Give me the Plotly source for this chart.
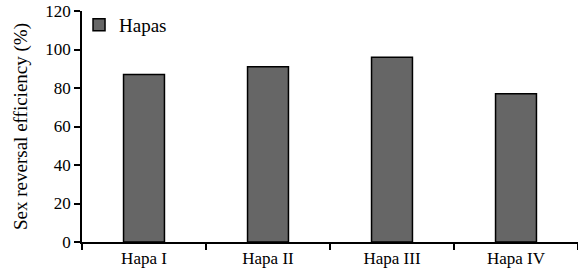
import plotly.graph_objects as go

categories = ["Hapa I", "Hapa II", "Hapa III", "Hapa IV"]
values = [87, 91, 96, 77]
series_name = "Hapas"
y_ticks = [0, 20, 40, 60, 80, 100, 120]

font_family = "'Liberation Serif', 'Times New Roman', Times, serif"

fig = go.Figure()
fig.add_trace(go.Bar(
    x=categories, y=values, name=series_name,
    marker=dict(color="#666666", line=dict(color="black", width=1.5)),
    width=0.33, showlegend=True,
))

fig.update_layout(
    width=578, height=271,
    margin=dict(l=82, r=0, t=11, b=29, autoexpand=False),
    paper_bgcolor="white", plot_bgcolor="white",
    font=dict(family=font_family, size=17, color="black"),
    showlegend=True,
    legend=dict(x=-0.006, y=1.022, xanchor="left", yanchor="top",
                bgcolor="rgba(0,0,0,0)", font=dict(family=font_family, size=19),
                itemwidth=30, tracegroupgap=0),
    bargap=0.67,
)
fig.update_xaxes(
    showline=True, linecolor="black", linewidth=1.5,
    ticks="outside", tickson="boundaries", ticklen=6, tickwidth=1.5, tickcolor="black",
    showgrid=False, tickfont=dict(family=font_family, size=17),
)
fig.update_yaxes(
    range=[0, 120], tickvals=y_ticks,
    showline=True, linecolor="black", linewidth=1.5,
    ticks="outside", ticklen=6, tickwidth=1.5, tickcolor="black",
    showgrid=False, zeroline=False, tickfont=dict(family=font_family, size=17),
    title=dict(text="Sex reversal efficiency (%)", font=dict(family=font_family, size=19), standoff=13),
)

fig.write_html("out.html", config={"displayModeBar": False},
               post_script="document.body.style.margin='0';document.body.style.padding='0';")
